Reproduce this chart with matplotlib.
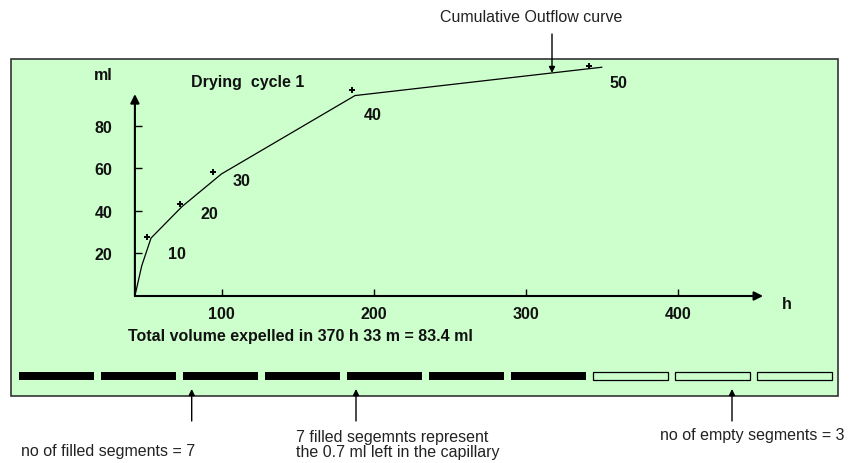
import matplotlib
matplotlib.use('Agg')
import matplotlib.pyplot as plt
from matplotlib.patches import Rectangle

# cumulative outflow curve (h, ml)
hours = [43, 47.5, 53.6, 74.0, 99.9, 187.7, 349.9]
volume = [0, 14.2, 27.2, 42.0, 57.3, 94.1, 107.4]

# measured points and their labels
mark_h = [50.8, 72.6, 94.1, 185.9, 341.8]
mark_ml = [27.6, 43.2, 58.4, 96.9, 108.1]
mark_labels = ['10', '20', '30', '40', '50']

x_ticks = [100, 200, 300, 400]
y_ticks = [20, 40, 60, 80]

n_filled = 7
n_empty = 3

W, H = 852, 464
GREEN = '#ccffcc'
FS = 11.5

plt.rcParams['font.family'] = ['Liberation Sans', 'DejaVu Sans']

fig = plt.figure(figsize=(W / 100, H / 100), dpi=100)

# layout layer in pixel coordinates
bg = fig.add_axes([0, 0, 1, 1])
bg.set_xlim(0, W)
bg.set_ylim(H, 0)
bg.axis('off')

bg.add_patch(Rectangle((11, 60), 827, 337, facecolor=GREEN,
                       edgecolor='#333333', lw=1.2, zorder=0))

# segments of the capillary
pitch = 81.97
for i in range(n_filled + n_empty):
    filled = i < n_filled
    bg.add_patch(Rectangle((19 + i * pitch, 372.7), 75, 8.3,
                           facecolor='black' if filled else 'none',
                           edgecolor='black', lw=0.9 if not filled else 0))

arrow_kw = dict(arrowstyle='-|>', color='black', lw=1, mutation_scale=9,
                shrinkA=0, shrinkB=0)
for x in [191.7, 356, 732]:
    bg.annotate('', xy=(x, 390), xytext=(x, 422), arrowprops=arrow_kw)
bg.annotate('', xy=(552, 74), xytext=(552, 35), arrowprops=arrow_kw)

note = dict(fontsize=FS, color='#222222', va='center')
bg.text(531, 18, 'Cumulative Outflow curve', ha='center', **note)
bg.text(21, 452, 'no of filled segments = 7', ha='left', **note)
bg.text(296, 445, '7 filled segemnts represent\nthe 0.7 ml left in the capillary',
        ha='left', linespacing=1.0, **note)
bg.text(660, 436, 'no of empty segments = 3', ha='left', **note)

bold = dict(fontsize=FS, fontweight='bold', color='#111111', va='center')
bg.text(103, 75, 'ml', ha='center', **bold)
bg.text(787, 305, 'h', ha='center', **bold)
bg.text(248, 83, 'Drying  cycle 1', ha='center', **bold)
bg.text(128, 337, 'Total volume expelled in 370 h 33 m = 83.4 ml', ha='left', **bold)

# chart
ax = fig.add_axes([134.9 / W, (H - 297) / H, (784.4 - 134.9) / W, (297 - 52.05) / H])
ax.set_facecolor('none')
ax.set_xlim(43, 470)
ax.set_ylim(0, 115)
for s in ax.spines.values():
    s.set_visible(False)

ax.plot(hours, volume, color='black', lw=0.9)
ax.plot(mark_h, mark_ml, ls='none', marker='+', ms=5, mew=1.4, color='black')

offsets = [(22, -12), (21, -6.5), (21, -6.7), (15, -18), (21, -12)]
for h, v, lab, off in zip(mark_h, mark_ml, mark_labels, offsets):
    ax.annotate(lab, (h, v), xytext=off, textcoords='offset points',
                ha='center', **bold)

axis_kw = dict(arrowstyle='-|>', color='black', lw=1.5, mutation_scale=13,
               shrinkA=0, shrinkB=0)
ax.annotate('', xy=(43, 94.8), xytext=(43, 0), arrowprops=axis_kw)
ax.annotate('', xy=(456, 0), xytext=(43, 0), arrowprops=axis_kw)

ax.set_xticks(x_ticks)
ax.set_yticks(y_ticks)
ax.tick_params(direction='in', length=5, width=1, colors='black',
               labelsize=FS, pad=7)
ax.tick_params(axis='y', pad=16)
for lab in ax.get_xticklabels() + ax.get_yticklabels():
    lab.set_fontweight('bold')
    lab.set_color('#111111')

fig.savefig('out.png', dpi=100)
